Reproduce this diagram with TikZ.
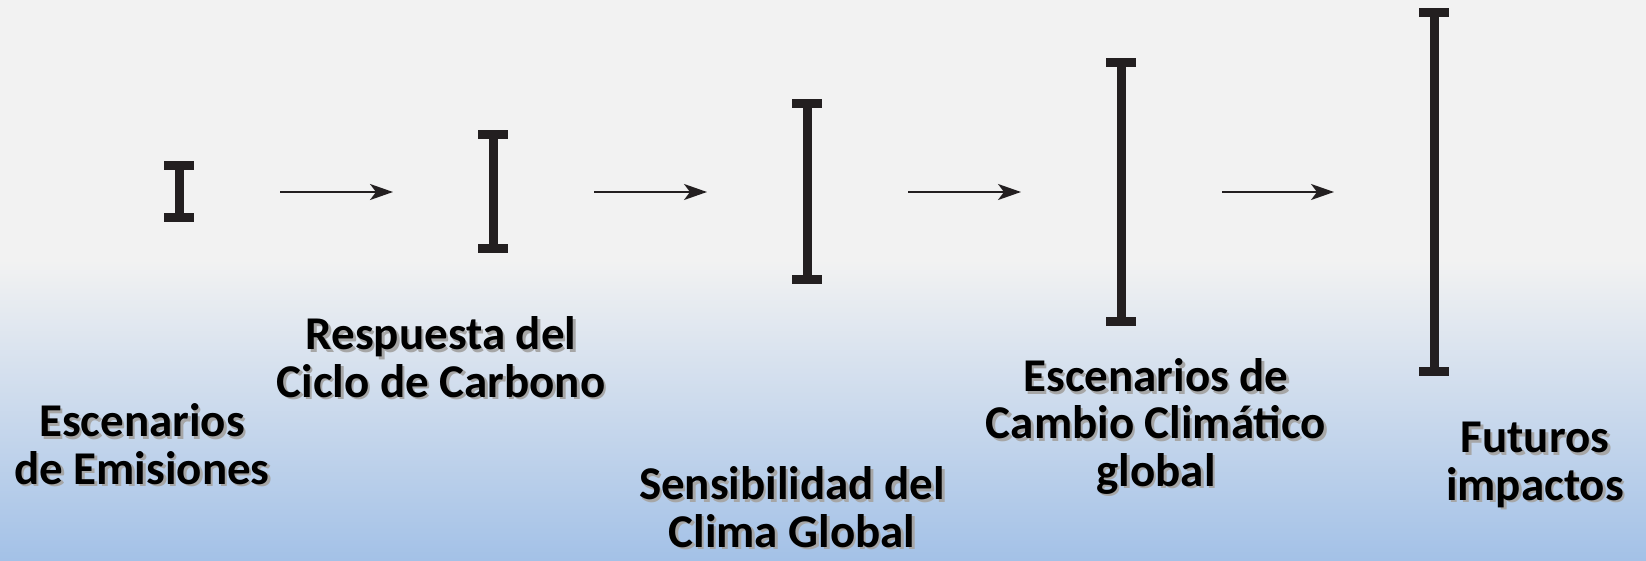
\documentclass[tikz,border=0pt]{standalone}
\usepackage{fontspec}
\setmainfont{Carlito}
\usetikzlibrary{arrows.meta}
\definecolor{bggray}{HTML}{F2F2F2}
\definecolor{bgblue}{HTML}{A3C1E7}
\definecolor{barink}{HTML}{231F20}
\newcommand{\stageshadow}[1]{%
    \makebox[0pt][l]{\hspace{2.5pt}\raisebox{-2.5pt}{\color{black!35}\begin{tabular}[b]{@{}c@{}}#1\end{tabular}}}%
    \begin{tabular}[b]{@{}c@{}}#1\end{tabular}}

\begin{document}
\begin{tikzpicture}
[
    x = 1pt, y = -1pt,
    errbar/.style = {inner sep = 0pt, outer sep = 0pt, minimum width = 30pt},
    flowarrow/.style = {-{Stealth[length = 23pt, width = 16pt, inset = 6pt]}, line width = 2pt, barink, shorten < = 86pt, shorten > = 85pt},
    stagelabel/.style = {anchor = base, inner sep = 0pt, font = \bfseries\fontsize{47}{47}\selectfont},
]
\useasboundingbox (0,0) rectangle (1646,561);
\fill[bggray] (0,0) rectangle (1646,262);
\shade[top color = bggray, bottom color = bgblue] (0,260) rectangle (1646,561);
\foreach \i/\x/\h in {1/179/61, 2/493/123, 3/807/185, 4/1121/268, 5/1434/367}
{
    \node[errbar, minimum height = \h pt] (bar\i) at (\x,192) {};
    \fill[barink] (bar\i.north west) rectangle ([yshift = -9pt]bar\i.north east);
    \fill[barink] ([yshift = 9pt]bar\i.south west) rectangle (bar\i.south east);
    \fill[barink] ([xshift = -4.5pt]bar\i.north) rectangle ([xshift = 4.5pt]bar\i.south);
}
\foreach \i/\j in {1/2, 2/3, 3/4, 4/5}
    \draw[flowarrow] (bar\i) -- (bar\j);
\node[stagelabel] (emisiones) at (142,484) {\stageshadow{Escenarios\\de Emisiones}};
\node[stagelabel] (carbono) at (441,397) {\stageshadow{Respuesta del\\Ciclo de Carbono}};
\node[stagelabel] (clima) at (792,547) {\stageshadow{Sensibilidad del\\Clima Global}};
\node[stagelabel] (cambio) at (1156,486) {\stageshadow{Escenarios de\\Cambio Climático\\global}};
\node[stagelabel] (impactos) at (1535,500) {\stageshadow{Futuros\\impactos}};
\end{tikzpicture}
\end{document}
